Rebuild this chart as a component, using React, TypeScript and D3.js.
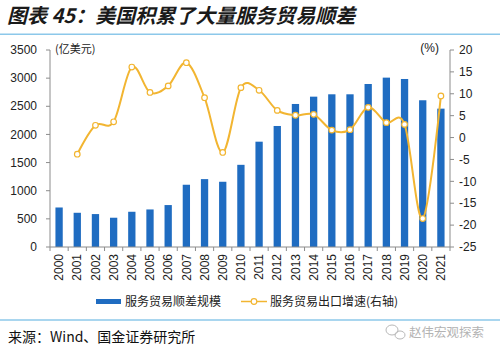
import * as d3 from "d3";

const years = [
  "2000", "2001", "2002", "2003", "2004", "2005", "2006", "2007", "2008", "2009", "2010",
  "2011", "2012", "2013", "2014", "2015", "2016", "2017", "2018", "2019", "2020", "2021",
];
// 服务贸易顺差规模 (亿美元)
const surplus = [
  702, 608, 585, 520, 626, 667, 745, 1106, 1206, 1159, 1460,
  1871, 2150, 2541, 2671, 2713, 2713, 2896, 3009, 2985, 2607, 2458,
];
// 服务贸易出口增速 (%)
const growth: (number | null)[] = [
  null, -3.8, 2.8, 3.6, 16.1, 10.3, 11.8, 17.1, 9.1, -3.4, 11.4,
  10.8, 6.2, 5.1, 5.3, 1.7, 1.8, 6.9, 3.4, 3.0, -18.5, 9.5,
];
const leftTicks = [0, 500, 1000, 1500, 2000, 2500, 3000, 3500];
const rightTicks = [-25, -20, -15, -10, -5, 0, 5, 10, 15, 20];

const W = 500;
const H = 354;
const left = 50;
const right = 450;
const top = 50;
const bottom = 247;

const BLUE = "#1f6cc1";
const GOLD = "#f2b531";
const AXIS = "#8c8c8c";
const CJK = "'Noto Sans CJK SC', sans-serif";
const NUM = "'Liberation Sans', Arial, sans-serif";

export default function App() {
  const x = d3.scaleBand<string>().domain(years).range([left, right]).padding(0);
  const yL = d3.scaleLinear().domain([0, 3500]).range([bottom, top]);
  const yR = d3.scaleLinear().domain([-25, 20]).range([bottom, top]);
  const cx = (y: string) => (x(y) ?? 0) + x.bandwidth() / 2;
  const barW = 7.3;

  const pts = years
    .map((y, i) => ({ y, v: growth[i] }))
    .filter((d) => d.v !== null) as { y: string; v: number }[];

  // Excel-style smoothing ~ uniform Catmull-Rom
  const line = d3
    .line<{ y: string; v: number }>()
    .x((d) => cx(d.y))
    .y((d) => yR(d.v))
    .curve(d3.curveCatmullRom.alpha(0));

  return (
    <svg
      width={W}
      height={H}
      style={{ position: "absolute", left: 0, top: 0, background: "#fff" }}
    >
      {/* title */}
      <text
        x={7}
        y={23}
        fontFamily={CJK}
        fontSize={20}
        fontWeight={700}
        fontStyle="italic"
        fill="#1a1a1a"
      >
        图表 45：美国积累了大量服务贸易顺差
      </text>
      <line x1={0} x2={W} y1={34.3} y2={34.3} stroke="#8cc8ea" strokeWidth={1.6} />

      {/* bars */}
      {years.map((y, i) => (
        <rect
          key={y}
          x={cx(y) - barW / 2}
          y={yL(surplus[i])}
          width={barW}
          height={bottom - yL(surplus[i])}
          fill={BLUE}
        />
      ))}

      {/* left axis */}
      <line x1={left} x2={left} y1={top} y2={bottom} stroke={AXIS} />
      {leftTicks.map((t) => (
        <g key={t}>
          <line x1={left - 4} x2={left} y1={yL(t)} y2={yL(t)} stroke={AXIS} />
          <text
            x={37}
            y={yL(t)}
            dy="0.35em"
            textAnchor="end"
            fontFamily={NUM}
            fontSize={12}
            fill="#222"
          >
            {t}
          </text>
        </g>
      ))}
      <text x={55} y={53} fontFamily={CJK} fontSize={11} fill="#222">
        (亿美元)
      </text>

      {/* right axis */}
      <line x1={right} x2={right} y1={top} y2={bottom} stroke={AXIS} />
      {rightTicks.map((t) => (
        <g key={t}>
          <line x1={right} x2={right + 4} y1={yR(t)} y2={yR(t)} stroke={AXIS} />
          <text
            x={459}
            y={yR(t)}
            dy="0.35em"
            fontFamily={NUM}
            fontSize={12}
            fill="#222"
          >
            {t}
          </text>
        </g>
      ))}
      <text x={439} y={52} textAnchor="end" fontFamily={NUM} fontSize={12} fill="#222">
        (%)
      </text>

      {/* x axis */}
      <line x1={left} x2={right} y1={bottom} y2={bottom} stroke={AXIS} />
      {years.map((y) => (
        <line
          key={"t" + y}
          x1={x(y) ?? 0}
          x2={x(y) ?? 0}
          y1={bottom}
          y2={bottom + 4}
          stroke={AXIS}
        />
      ))}
      <line x1={right} x2={right} y1={bottom} y2={bottom + 4} stroke={AXIS} />
      {years.map((y) => (
        <text
          key={"l" + y}
          transform={`translate(${cx(y)},${bottom + 7}) rotate(-90)`}
          dy="0.35em"
          textAnchor="end"
          fontFamily={NUM}
          fontSize={12}
          fill="#222"
        >
          {y}
        </text>
      ))}

      {/* growth line */}
      <path d={line(pts) ?? ""} fill="none" stroke={GOLD} strokeWidth={2} />
      {pts.map((d) => (
        <circle
          key={"c" + d.y}
          cx={cx(d.y)}
          cy={yR(d.v)}
          r={2.8}
          fill="#fff"
          stroke={GOLD}
          strokeWidth={1.2}
        />
      ))}

      {/* legend */}
      <rect x={96} y={299} width={25} height={5} fill={BLUE} />
      <text x={125} y={306} fontFamily={CJK} fontSize={12} fill="#222">
        服务贸易顺差规模
      </text>
      <line x1={241} x2={267} y1={301.5} y2={301.5} stroke={GOLD} strokeWidth={1.5} />
      <circle cx={254} cy={301.5} r={2.8} fill="#fff" stroke={GOLD} strokeWidth={1.2} />
      <text x={270} y={306} fontFamily={CJK} fontSize={12} fill="#222">
        服务贸易出口增速(右轴)
      </text>

      <line x1={0} x2={W} y1={320} y2={320} stroke="#8cc8ea" strokeWidth={1.6} />

      {/* source */}
      <text x={8} y={342} fontFamily={CJK} fontSize={14} fill="#111">
        来源：Wind、国金证券研究所
      </text>

      {/* watermark */}
      <g stroke="#b8b8b8" fill="none" strokeWidth={1}>
        <ellipse cx={392} cy={330} rx={6} ry={5} />
        <ellipse cx={400} cy={335} rx={5} ry={4} />
      </g>
      <text x={409} y={337} fontFamily={CJK} fontSize={12.5} fill="#b3b3b3">
        赵伟宏观探索
      </text>
    </svg>
  );
}
